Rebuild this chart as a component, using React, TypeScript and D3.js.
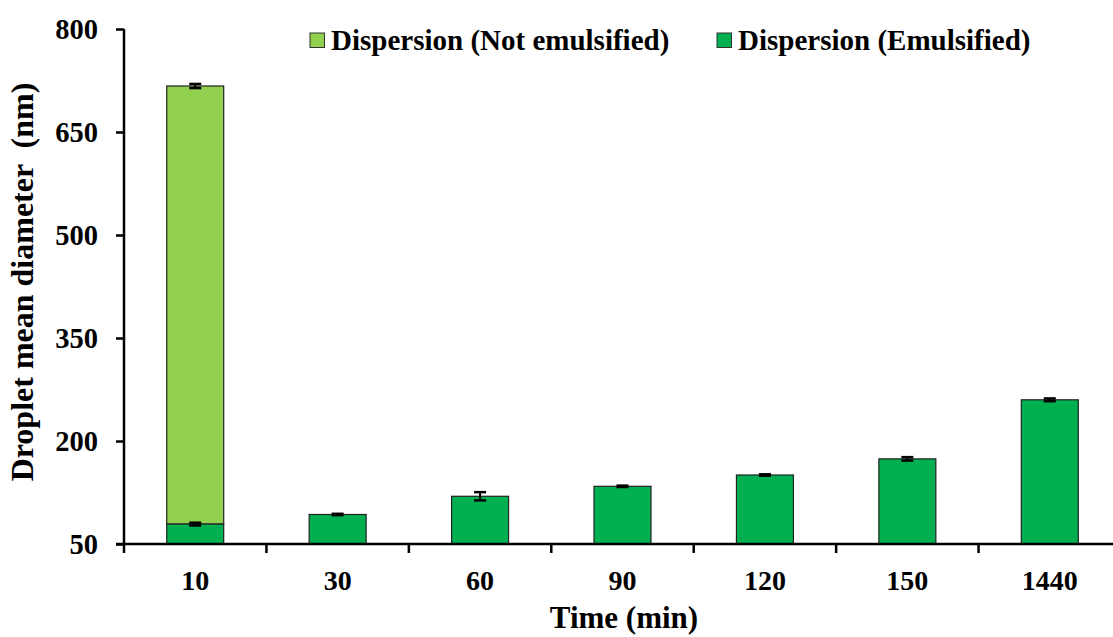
import React, { useEffect, useRef } from "react";
import * as d3 from "d3";

const times = ["10", "30", "60", "90", "120", "150", "1440"];
const emulsified = [79, 93, 119.5, 134, 150.5, 174, 260];
const emulsifiedErr = [2, 1, 6, 1, 1, 2.5, 2];
// only the 10 min sample has a non-emulsified part (top of stack)
const notEmulsifiedTop = [717, null, null, null, null, null, null];
const notEmulsifiedErr = [3, 0, 0, 0, 0, 0, 0];
const yTicks = [50, 200, 350, 500, 650, 800];
const seriesNames = ["Dispersion (Not emulsified)", "Dispersion (Emulsified)"];

const W = 1113;
const H = 637;
const FONT = "Liberation Serif";
const LIGHT = "#92D050";
const DARK = "#00B050";

const App: React.FC = () => {
  const svgRef = useRef<SVGSVGElement>(null);

  useEffect(() => {
    if (!svgRef.current) return;
    const svg = d3.select(svgRef.current);
    svg.selectAll("*").remove();

    const x = d3.scaleBand().domain(times).range([124, 1121]).paddingInner(0.6).paddingOuter(0.3);
    const y = d3.scaleLinear().domain([50, 800]).range([544, 29]);

    const g = svg.append("g");
    times.forEach((t, i) => {
      const top = notEmulsifiedTop[i];
      if (top != null) {
        g.append("rect")
          .attr("x", x(t)!).attr("width", x.bandwidth())
          .attr("y", y(top)).attr("height", y(emulsified[i]) - y(top))
          .attr("fill", LIGHT).attr("stroke", "#222").attr("stroke-width", 1.2);
      }
      g.append("rect")
        .attr("x", x(t)!).attr("width", x.bandwidth())
        .attr("y", y(emulsified[i])).attr("height", y(50) - y(emulsified[i]))
        .attr("fill", DARK).attr("stroke", "#222").attr("stroke-width", 1.2);
    });

    // error bars
    const errBar = (cx: number, v: number, e: number) => {
      const y1 = y(v + e), y2 = y(v - e);
      const hw = 6;
      g.append("line").attr("x1", cx).attr("x2", cx).attr("y1", y1).attr("y2", y2)
        .attr("stroke", "#000").attr("stroke-width", 2);
      [y1, y2].forEach(yy => g.append("line")
        .attr("x1", cx - hw).attr("x2", cx + hw).attr("y1", yy).attr("y2", yy)
        .attr("stroke", "#000").attr("stroke-width", 2.5));
    };
    times.forEach((t, i) => {
      const cx = x(t)! + x.bandwidth() / 2;
      errBar(cx, emulsified[i], emulsifiedErr[i]);
      const top = notEmulsifiedTop[i];
      if (top != null) errBar(cx, top, notEmulsifiedErr[i]);
    });

    // y axis
    svg.append("g")
      .attr("transform", "translate(124,0)")
      .call(d3.axisLeft(y).tickValues(yTicks).tickSize(8).tickPadding(18).tickFormat(d3.format("d")))
      .call(a => a.select(".domain").attr("stroke", "#000").attr("stroke-width", 2.5)
        .attr("d", `M0,${y(800)}V${y(50)}`))
      .call(a => a.selectAll(".tick line").attr("stroke", "#000").attr("stroke-width", 2.5))
      .call(a => a.selectAll(".tick text").attr("fill", "#000")
        .style("font-family", FONT).attr("font-weight", "bold").attr("font-size", 28.5));

    // x axis
    const xa = svg.append("g").attr("transform", `translate(0,${y(50)})`);
    xa.append("line").attr("x1", 116).attr("x2", 1121).attr("y1", 0).attr("y2", 0)
      .attr("stroke", "#000").attr("stroke-width", 2.5);
    d3.range(times.length + 1).forEach(k => {
      const tx = 124 + k * x.step();
      xa.append("line").attr("x1", tx).attr("x2", tx).attr("y1", 0).attr("y2", 9)
        .attr("stroke", "#000").attr("stroke-width", 2.5);
    });
    times.forEach(t => {
      xa.append("text").attr("x", x(t)! + x.bandwidth() / 2).attr("y", 46)
        .attr("text-anchor", "middle").style("font-family", FONT)
        .attr("font-weight", "bold").attr("font-size", 28).text(t);
    });

    // axis titles
    svg.append("text").attr("x", 624).attr("y", 628).attr("text-anchor", "middle")
      .style("font-family", FONT).attr("font-weight", "bold").attr("font-size", 31)
      .text("Time (min)");
    svg.append("text").attr("transform", `translate(33,${282}) rotate(-90)`)
      .attr("text-anchor", "middle").style("font-family", FONT).attr("font-weight", "bold")
      .attr("font-size", 32).style("white-space", "pre")
      .text("Droplet mean diameter  (nm)");

    // legend
    const legendX = [310, 717];
    const legendColors = [LIGHT, DARK];
    seriesNames.forEach((name, i) => {
      svg.append("rect").attr("x", legendX[i]).attr("y", 33).attr("width", 14.5).attr("height", 14.5)
        .attr("fill", legendColors[i]).attr("stroke", "#333").attr("stroke-width", 1);
      svg.append("text").attr("x", legendX[i] + 21).attr("y", 50)
        .style("font-family", FONT).attr("font-weight", "bold").attr("font-size", 29)
        .text(name);
    });
  }, []);

  return (
    <svg ref={svgRef} width={W} height={H}
      style={{ position: "absolute", left: 0, top: 0, background: "#fff" }} />
  );
};

export default App;
